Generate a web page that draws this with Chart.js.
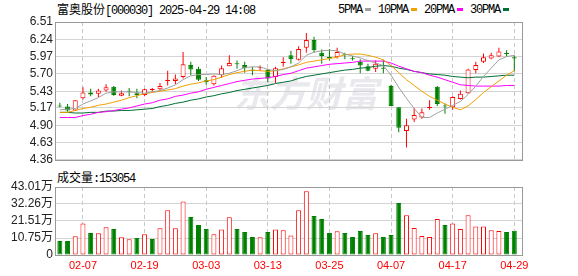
<!DOCTYPE html>
<html>
<head>
<meta charset="utf-8">
<script src="https://cdn.jsdelivr.net/npm/chart.js@4.4.0/dist/chart.umd.min.js"></script>
<style>
body { margin: 0; background: #fff; width: 578px; height: 276px; overflow: hidden; position: relative; }
canvas { position: absolute; left: 0; }
#price { top: 0; }
#vol { top: 170px; }
.txt { position: absolute; white-space: nowrap; font-size: 12px; line-height: 14px; color: #000; }
.cjk { font-family: "Noto Sans CJK SC"; }
.mono { font-family: "Liberation Mono"; letter-spacing: -1.2px; }
.sq { display: inline-block; width: 6px; height: 3px; margin: 0 7px 2px 3px; vertical-align: middle; }
</style>
</head>
<body>
<div class="txt" style="left:57px;top:2px"><span class="cjk">富奥股份</span><span class="mono">[000030] 2025-04-29 14:08</span></div>
<div class="txt" id="legend" style="left:338px;top:2px"></div>
<div class="txt" style="left:57px;top:170px"><span class="cjk">成交量</span><span class="mono">:153054</span></div>
<canvas id="price" width="578" height="170"></canvas>
<canvas id="vol" width="578" height="106"></canvas>
<script>
// trading days shown on the chart
var dates = ['01-27','02-05','02-06','02-07','02-10','02-11','02-12','02-13','02-14','02-17',
    '02-18','02-19','02-20','02-21','02-24','02-25','02-26','02-27','02-28','03-03',
    '03-04','03-05','03-06','03-07','03-10','03-11','03-12','03-13','03-14','03-17',
    '03-18','03-19','03-20','03-21','03-24','03-25','03-26','03-27','03-28','03-31',
    '04-01','04-02','04-03','04-07','04-08','04-09','04-10','04-11','04-14','04-15',
    '04-16','04-17','04-18','04-21','04-22','04-23','04-24','04-25','04-28','04-29'];
var tickDates = ['02-07','02-19','03-03','03-13','03-25','04-07','04-17','04-29'];

var open = [5.20,5.19,5.13,5.32,5.41,5.39,5.44,5.50,5.36,5.43, 5.40,5.37,5.45,5.46,5.59,5.59,5.65,5.84,5.78,5.60,
    5.54,5.68,5.82,5.86,5.84,5.76,5.79,5.76,5.65,5.87, 5.99,5.92,6.11,6.23,6.03,5.96,5.96,6.00,5.94,5.89,
    5.82,5.78,5.79,5.51,5.18,4.81,4.99,5.02,5.17,5.50, 5.20,5.18,5.31,5.40,5.76,5.89,5.94,5.97,6.02,5.96];
var high = [5.25,5.23,5.29,5.49,5.47,5.47,5.54,5.51,5.44,5.48, 5.47,5.47,5.48,5.56,5.75,5.69,6.04,5.89,5.81,5.65,
    5.68,5.83,5.99,5.91,5.89,5.81,5.83,5.78,5.81,5.96, 6.06,6.13,6.34,6.28,6.08,6.09,6.11,6.03,5.98,5.93,
    5.86,5.91,5.92,5.53,5.18,5.00,5.17,5.16,5.29,5.51, 5.24,5.35,5.44,5.78,5.89,6.02,6.03,6.11,6.07,5.99];
var low = [5.18,5.11,5.12,5.30,5.35,5.34,5.42,5.36,5.35,5.35, 5.32,5.35,5.42,5.44,5.52,5.54,5.63,5.68,5.59,5.53,
    5.52,5.64,5.82,5.78,5.72,5.68,5.75,5.57,5.56,5.81, 5.86,5.91,6.03,6.03,5.86,5.91,5.94,5.93,5.91,5.71,
    5.74,5.73,5.71,5.20,4.79,4.55,4.95,5.00,5.14,5.20, 5.08,5.14,5.30,5.39,5.71,5.87,5.93,5.96,5.97,5.74];
var close = [5.19,5.13,5.29,5.41,5.38,5.44,5.49,5.37,5.40,5.42, 5.37,5.46,5.45,5.51,5.60,5.63,5.85,5.77,5.61,5.57,
    5.67,5.79,5.87,5.85,5.79,5.75,5.80,5.63,5.79,5.88, 5.93,6.09,6.23,6.07,5.98,5.95,6.04,5.99,5.93,5.83,
    5.75,5.86,5.78,5.20,4.86,4.90,5.06,5.10,5.18,5.23, 5.19,5.34,5.39,5.77,5.84,5.96,5.99,6.05,6.01,5.94];
var prevClose = 5.21;

var ma5 = [5.14,5.15,5.16,5.23,5.28,5.33,5.40,5.42,5.42,5.42, 5.41,5.40,5.42,5.44,5.48,5.53,5.61,5.67,5.69,5.69,
    5.70,5.69,5.71,5.75,5.80,5.81,5.81,5.77,5.75,5.77, 5.81,5.87,5.99,6.04,6.06,6.07,6.06,6.01,5.98,5.95,
    5.91,5.87,5.83,5.68,5.49,5.32,5.16,5.02,5.02,5.09, 5.15,5.21,5.27,5.38,5.51,5.66,5.79,5.92,5.97,5.99];
var ma10 = [5.10,5.10,5.13,5.16,5.18,5.21,5.23,5.26,5.29,5.33, 5.36,5.39,5.41,5.43,5.45,5.47,5.51,5.54,5.56,5.59,
    5.61,5.65,5.69,5.72,5.74,5.76,5.75,5.74,5.75,5.78, 5.81,5.84,5.88,5.90,5.92,5.94,5.96,6.00,6.01,6.01,
    5.99,5.96,5.92,5.83,5.72,5.61,5.52,5.43,5.35,5.29, 5.23,5.18,5.14,5.20,5.30,5.41,5.50,5.59,5.68,5.75];
var ma20 = [5.02,5.02,5.02,5.05,5.07,5.10,5.11,5.13,5.15,5.17, 5.20,5.23,5.25,5.29,5.31,5.35,5.37,5.40,5.42,5.46,
    5.49,5.52,5.55,5.58,5.60,5.62,5.63,5.64,5.66,5.69, 5.71,5.75,5.79,5.81,5.83,5.85,5.86,5.87,5.88,5.90,
    5.90,5.90,5.90,5.87,5.82,5.78,5.74,5.72,5.68,5.65, 5.61,5.57,5.53,5.52,5.51,5.51,5.51,5.51,5.52,5.52];
var ma30 = [5.10,5.10,5.09,5.09,5.10,5.10,5.12,5.12,5.13,5.13, 5.14,5.15,5.16,5.19,5.21,5.24,5.26,5.29,5.31,5.34,
    5.36,5.39,5.41,5.44,5.46,5.48,5.50,5.52,5.55,5.57, 5.59,5.63,5.66,5.68,5.70,5.72,5.74,5.76,5.77,5.79,
    5.80,5.82,5.83,5.82,5.79,5.77,5.74,5.72,5.70,5.69, 5.68,5.66,5.65,5.64,5.65,5.65,5.66,5.67,5.68,5.68];

var volume = [88600,88600,118000,200000,139000,137000,175000,164000,112000,99000,
    107500,131000,101000,169000,283000,169000,339000,240000,190000,164000,
    131000,162000,238000,164000,145000,114000,112000,145000,162000,156000,
    124000,283000,403000,247000,228000,139000,150000,139000,114000,152000,
    127000,137000,114000,127000,329000,251000,171000,120000,114000,228000,
    190000,200000,164000,251000,181000,181000,156000,152000,145000,153054];

var priceTicks = [4.36, 4.63, 4.90, 5.17, 5.43, 5.70, 5.97, 6.24, 6.51];
var volTicks = [0, 107500, 215100, 322600, 430100];
var volTickLabels = ['0', '10.75万', '21.51万', '32.26万', '43.01万'];

var maNames = ['5PMA', '10PMA', '20PMA', '30PMA'];
var maColors = ['#a0a0a0', '#f0a000', '#ff00ff', '#006f33'];
var maData = [ma5, ma10, ma20, ma30];

var RED = '#ff0000', GREEN = '#008000';

// legend in the header
var legendHtml = '';
maNames.forEach(function(n, i) {
    legendHtml += '<span class="mono">' + n + '</span><span class="sq" style="background:' + maColors[i] + '"></span>';
});
document.getElementById('legend').innerHTML = legendHtml;

var isUp = close.map(function(c, i) { return c >= open[i]; });
var volUp = close.map(function(c, i) { return c >= (i ? close[i - 1] : prevClose); });
var tickIdx = tickDates.map(function(d) { return dates.indexOf(d); });

var frame = {
    id: 'frame',
    afterDatasetsDraw: function(chart) {
        var ctx = chart.ctx, a = chart.chartArea;
        var x0 = Math.floor(a.left) - 0.5, y0 = Math.floor(a.top) + 0.5;
        var x1 = Math.round(a.right) + 0.5, y1 = Math.round(a.bottom) + 0.5;
        ctx.save();
        ctx.strokeStyle = '#999';
        ctx.lineWidth = 1;
        ctx.strokeRect(x0, y0, x1 - x0, y1 - y0);
        ctx.restore();
    }
};

var watermark = {
    id: 'watermark',
    beforeDraw: function(chart) {
        var ctx = chart.ctx;
        ctx.save();
        ctx.fillStyle = '#e9e9ed';
        ctx.font = 'italic bold 36px "Noto Sans CJK SC"';
        ctx.textBaseline = 'middle';
        ctx.fillText('东方财富', 234, 93);
        ctx.restore();
    }
};

function xAxis(showLabels) {
    return {
        type: 'linear',
        min: -0.5,
        max: 60,
        offset: false,
        afterBuildTicks: function(s) { s.ticks = tickIdx.map(function(v) { return { value: v }; }); },
        afterFit: function(s) { s.height = showLabels ? 21 : 0; },
        grid: { offset: false, color: '#c8c8c8', drawTicks: false },
        border: { display: false, dash: [4, 3] },
        ticks: {
            display: showLabels,
            autoSkip: false,
            maxRotation: 0,
            padding: 4,
            color: RED,
            font: { family: 'Liberation Sans', size: 11 },
            callback: function(v) { return dates[v]; }
        }
    };
}

var yFont = { family: "'Liberation Sans', 'Noto Sans CJK SC'", size: 12 };

// K line
new Chart(document.getElementById('price'), {
    type: 'bar',
    data: {
        datasets: maData.map(function(arr, k) {
            return {
                type: 'line',
                order: 0,
                data: arr.map(function(v, i) { return { x: i, y: v }; }),
                borderColor: maColors[k],
                borderWidth: 1,
                pointRadius: 0,
                tension: 0
            };
        }).concat([{
            order: 1,
            grouped: false,
            barThickness: 5,
            minBarLength: 1,
            borderWidth: 1,
            borderSkipped: false,
            inflateAmount: 0,
            data: open.map(function(o, i) { return { x: i, y: [o, close[i]] }; }),
            backgroundColor: isUp.map(function(u) { return u ? '#ffffff' : GREEN; }),
            borderColor: isUp.map(function(u) { return u ? RED : GREEN; })
        }, {
            order: 2,
            grouped: false,
            barThickness: 1,
            borderWidth: 0,
            inflateAmount: 0,
            data: low.map(function(l, i) { return { x: i, y: [l, high[i]] }; }),
            backgroundColor: isUp.map(function(u) { return u ? RED : GREEN; })
        }])
    },
    options: {
        responsive: false,
        animation: false,
        layout: { padding: { left: 0, right: 56, top: 22, bottom: 5 } },
        plugins: { legend: { display: false }, tooltip: { enabled: false } },
        scales: {
            x: xAxis(false),
            y: {
                min: 4.36,
                max: 6.51,
                afterBuildTicks: function(s) { s.ticks = priceTicks.map(function(v) { return { value: v }; }); },
                afterFit: function(s) { s.width = 56; },
                grid: { color: '#d4d4d4', drawTicks: false },
                border: { display: false },
                ticks: { autoSkip: false, padding: 3, color: '#222', font: yFont, callback: function(v) { return v.toFixed(2); } }
            }
        }
    },
    plugins: [watermark, frame]
});

// volume
new Chart(document.getElementById('vol'), {
    type: 'bar',
    data: {
        datasets: [{
            grouped: false,
            barThickness: 5,
            borderWidth: 1,
            borderSkipped: false,
            inflateAmount: 0,
            data: volume.map(function(v, i) { return { x: i, y: v }; }),
            backgroundColor: volUp.map(function(u) { return u ? '#ffffff' : GREEN; }),
            borderColor: volUp.map(function(u) { return u ? RED : GREEN; })
        }]
    },
    options: {
        responsive: false,
        animation: false,
        layout: { padding: { left: 0, right: 56, top: 17, bottom: 0 } },
        plugins: { legend: { display: false }, tooltip: { enabled: false } },
        scales: {
            x: xAxis(true),
            y: {
                min: 0,
                max: 430100,
                afterBuildTicks: function(s) { s.ticks = volTicks.map(function(v) { return { value: v }; }); },
                afterFit: function(s) { s.width = 56; },
                grid: { color: '#d4d4d4', drawTicks: false },
                border: { display: false },
                ticks: { autoSkip: false, padding: 3, color: '#222', font: yFont, callback: function(v, i) { return volTickLabels[i]; } }
            }
        }
    },
    plugins: [frame]
});
</script>
</body>
</html>
